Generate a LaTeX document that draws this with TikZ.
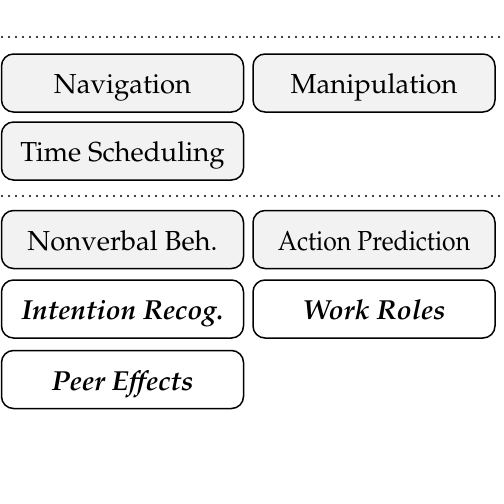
\documentclass[tikz,border=0pt]{standalone}
\usepackage[T1]{fontenc}
\usepackage{mathpazo}
\definecolor{boxfill}{RGB}{242,242,242}
\begin{document}
\begin{tikzpicture}[x=1pt,y=-1pt,
  cell/.style={draw=black, line width=1.5pt, rounded corners=12pt,
    minimum width=242pt, minimum height=58pt, inner sep=0pt,
    text height=21pt, text depth=0pt,
    font=\fontsize{27.5}{33}\selectfont},
  graycell/.style={cell, fill=boxfill},
  boldcell/.style={cell, fill=white, font=\fontsize{27.5}{33}\selectfont\bfseries\itshape},
  sep/.style={line width=2.2pt, line cap=round, dash pattern=on 0pt off 7pt}]
\useasboundingbox (0,0) rectangle (504,504);
\coordinate (s1a) at (2,37);
\coordinate (s1b) at (504,37);
\coordinate (s2a) at (2,196);
\coordinate (s2b) at (504,196);
\draw[sep] (s1a) -- (s1b);
\draw[sep] (s2a) -- (s2b);
\node[graycell] (nav) at (122.5,83) {Navigation};
\node[graycell] (man) at (374,83) {Manipulation};
\node[graycell] (time) at (122.5,151) {Time Scheduling};
\node[graycell] (nonv) at (122.5,239.5) {Nonverbal Beh.};
\node[graycell] (act) at (374,239.5) {\scalebox{0.9}[1]{Action Prediction}};
\node[boldcell] (intent) at (122.5,309) {Intention Recog.};
\node[boldcell] (work) at (374,309) {Work Roles};
\node[boldcell] (peer) at (122.5,379.5) {Peer Effects};
\end{tikzpicture}
\end{document}
